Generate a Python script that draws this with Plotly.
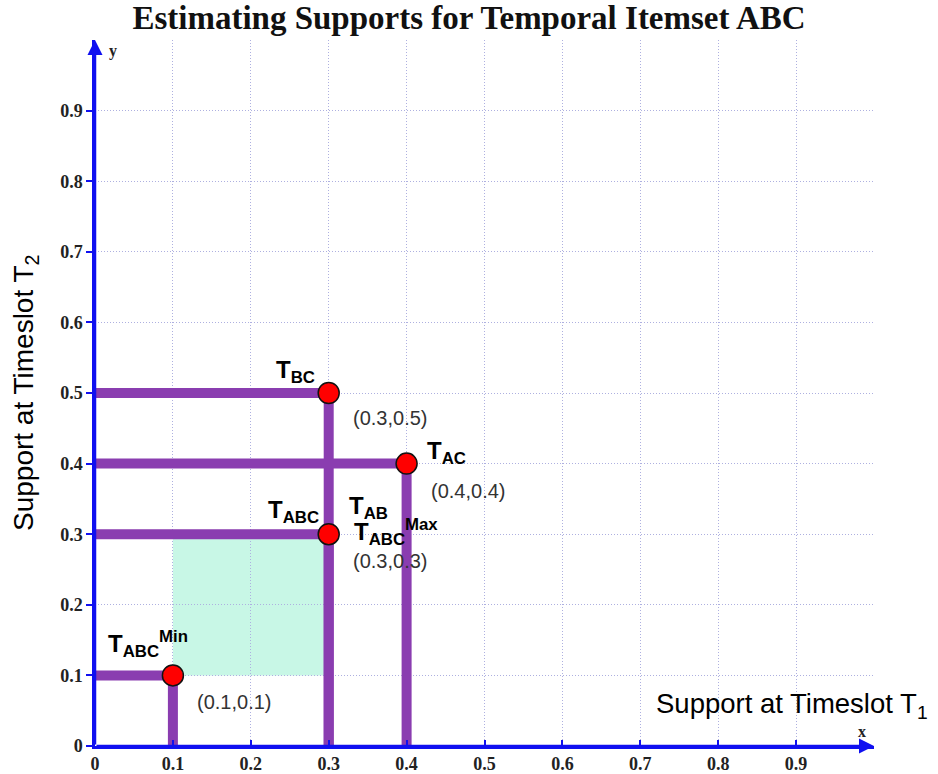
import plotly.graph_objects as go

# ---- data ----
point_names = ["BC", "AC", "ABC_MAX", "ABC_MIN"]
points_x = [0.3, 0.4, 0.3, 0.1]
points_y = [0.5, 0.4, 0.3, 0.1]
coord_labels = ["(0.3,0.5)", "(0.4,0.4)", "(0.3,0.3)", "(0.1,0.1)"]
tick_vals = [0, 0.1, 0.2, 0.3, 0.4, 0.5, 0.6, 0.7, 0.8, 0.9]
tick_text = ["0", "0.1", "0.2", "0.3", "0.4", "0.5", "0.6", "0.7", "0.8", "0.9"]
region_x = [0.1, 0.3]   # estimated support range on T1
region_y = [0.1, 0.3]   # estimated support range on T2

PURPLE = "#8a3db0"
BLUE = "#1010f0"
MINT = "#c8f7e6"
GRID = "#aeb0e0"
SANS = "Liberation Sans, Arial, sans-serif"
SERIF = "Liberation Serif, Times New Roman, serif"

fig = go.Figure()

# shaded region
fig.add_shape(type="rect", x0=region_x[0], x1=region_x[1], y0=region_y[0], y1=region_y[1],
              xref="x", yref="y", fillcolor=MINT, line=dict(width=0), layer="below")

# guide lines from each point to the axes
for px, py in zip(points_x, points_y):
    fig.add_trace(go.Scatter(x=[0, px, px], y=[py, py, 0], mode="lines",
                             line=dict(color=PURPLE, width=10), hoverinfo="skip",
                             showlegend=False))

# points
fig.add_trace(go.Scatter(x=points_x, y=points_y, mode="markers",
                         marker=dict(size=21, color="#ff0000", line=dict(color="#111", width=1.5)),
                         showlegend=False, cliponaxis=False))

ann = []
lab_font = dict(family=SANS, size=24, color="#000")
crd_font = dict(family=SANS, size=20, color="#333")

def lab(i, text, dx, dy, font):
    ann.append(dict(x=points_x[i], y=points_y[i], xref="x", yref="y", text=text,
                    showarrow=False, xshift=dx, yshift=dy, font=font,
                    xanchor="center", yanchor="middle"))

lab(0, "<b>T<sub>BC</sub></b>", -33, 22, lab_font)
lab(0, coord_labels[0], 61, -25, crd_font)
lab(1, "<b>T<sub>AC</sub></b>", 40, 11, lab_font)
lab(1, coord_labels[1], 61, -27, crd_font)
lab(2, "<b>T<sub>ABC</sub></b>", -35, 23, lab_font)
lab(2, "<b>T<sub>AB</sub></b>", 40, 27, lab_font)
lab(2, "<b>T<sub>ABC</sub><sup>Max</sup></b>", 67, 2, lab_font)
lab(2, coord_labels[2], 61, -27, crd_font)
lab(3, "<b>T<sub>ABC</sub><sup>Min</sup></b>", -25, 31, lab_font)
lab(3, coord_labels[3], 61, -27, crd_font)

# axis arrows
ann.append(dict(x=1.0, y=0, ax=0, ay=0, xref="x", yref="y", axref="x", ayref="y",
                text="", showarrow=True, arrowhead=2, arrowsize=1.2, arrowwidth=2.5,
                arrowcolor=BLUE))
ann.append(dict(x=0, y=1.0, ax=0, ay=0, xref="x", yref="y", axref="x", ayref="y",
                text="", showarrow=True, arrowhead=2, arrowsize=1.2, arrowwidth=2.5,
                arrowcolor=BLUE))
# axis letters
ann.append(dict(x=0.985, y=0, xref="x", yref="y", text="<b>x</b>", showarrow=False,
                yshift=15, font=dict(family=SERIF, size=16, color="#222")))
ann.append(dict(x=0, y=0.985, xref="x", yref="y", text="<b>y</b>", showarrow=False,
                xshift=18, font=dict(family=SERIF, size=16, color="#222")))
# axis titles
ann.append(dict(x=1.0, y=0, xref="paper", yref="paper", text="Support at Timeslot T<sub>1</sub>",
                showarrow=False, xanchor="center", yanchor="middle", xshift=-82, yshift=41,
                font=dict(family=SANS, size=27.5, color="#000")))
ann.append(dict(x=0, y=0.5, xref="paper", yref="paper", text="Support at Timeslot T<sub>2</sub>",
                showarrow=False, textangle=-90, xanchor="center", yanchor="middle", xshift=-70,
                yshift=0, font=dict(family=SANS, size=28, color="#000")))

axis_common = dict(range=[0, 1.0], tickvals=tick_vals, ticktext=tick_text,
                   showgrid=True, gridcolor=GRID, griddash="1px,2px", gridwidth=1,
                   showline=True, linecolor=BLUE, linewidth=2.5,
                   ticklen=6, tickwidth=2, tickcolor=BLUE,
                   zeroline=False, fixedrange=True, automargin=False,
                   tickfont=dict(family=SERIF, size=18, color="#222", weight="bold"))

fig.update_layout(
    width=938, height=774, autosize=False,
    margin=dict(l=95, r=64, t=40, b=28, pad=0),
    paper_bgcolor="white", plot_bgcolor="white",
    title=dict(text="<b>Estimating Supports for Temporal Itemset ABC</b>",
               x=0.5, xanchor="center", y=0.977, yanchor="middle",
               font=dict(family=SERIF, size=33, color="#111")),
    xaxis=dict(**axis_common, ticks="inside"),
    yaxis=dict(**axis_common, ticks="outside"),
    annotations=ann,
    showlegend=False,
)

fig.write_html("out.html", config={"responsive": False, "displayModeBar": False},
               post_script="document.body.style.margin='0';document.body.style.overflow='hidden';")
